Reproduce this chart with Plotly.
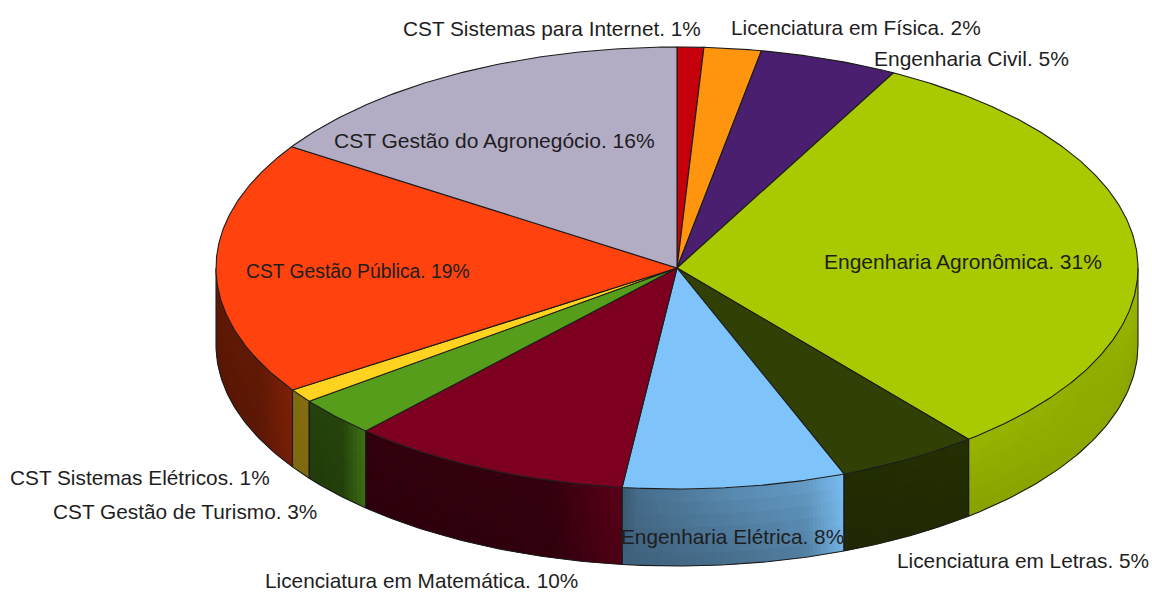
import numpy as np
import plotly.graph_objects as go

categories = ["CST Sistemas para Internet", "Licenciatura em Física", "Engenharia Civil",
              "Engenharia Agronômica", "Licenciatura em Letras", "Engenharia Elétrica",
              "Licenciatura em Matemática", "CST Gestão de Turismo", "CST Sistemas Elétricos",
              "CST Gestão Pública", "CST Gestão do Agronegócio"]
values = [0.93, 2.0, 4.85, 31.32, 5.0, 7.8, 9.9, 2.9, 1.0, 18.55, 15.75]
percent_labels = ["1%", "2%", "5%", "31%", "5%", "8%", "10%", "3%", "1%", "19%", "16%"]
colors = ["#C5000B", "#FF950E", "#4B1F6F", "#A9C900", "#314004", "#7EC3F9",
          "#7E0021", "#579D1C", "#FFD320", "#FF420E", "#B3ACC5"]

# wall shading: (fraction along the slice, factor at top, factor at bottom)
wall_shade = {
    3: [(0, .90, .80), (.5, .86, .84), (1, .92, .80)],
    4: [(0, .70, .62), (1, .74, .66)],
    5: [(0, .44, .50), (.07, .56, .50), (.5, .72, .56), (.82, .80, .64), (1, .97, .92)],
    6: [(0, .40, .36), (.75, .42, .38), (.92, .62, .55), (1, .72, .62)],
    7: [(0, .42, .38), (.6, .43, .40), (.9, .66, .62), (1, .72, .68)],
    8: [(0, .50, .50), (1, .52, .50)],
    9: [(0, .38, .34), (.75, .38, .36), (1, .50, .46)],
}

CX, CY, RX, RY, DEPTH = 677, 268, 461, 221, 77
OUTLINE = "#1c1c1c"
LABEL_LEFT = [401, 729, 872, 822, 895, 619, 263, 51, 8, 244, 332]
LABEL_Y = [28, 27, 58, 261, 560, 536, 580, 511, 477, 271, 140]
FONT_SIZES = [20.8, 20.8, 21.0, 21.0, 20.8, 20.8, 20.8, 20.8, 20.8, 19.3, 21.0]


def ex(t):
    return CX + RX * np.sin(np.radians(t))


def ey(t, d=0):
    return CY - RY * np.cos(np.radians(t)) + d


def shaded(hexcol, f):
    r, g, b = (int(hexcol[i:i + 2], 16) for i in (1, 3, 5))
    return f"rgb({min(255, r * f):.0f},{min(255, g * f):.0f},{min(255, b * f):.0f})"


fig = go.Figure()


def poly(xs, ys, fill=None, line=OUTLINE, width=1.0):
    fig.add_trace(go.Scatter(x=list(xs), y=list(ys), mode="lines",
                             fill="toself" if fill else "none",
                             fillcolor=fill, line=dict(color=line, width=width),
                             hoverinfo="skip", showlegend=False))


edges = np.concatenate([[0], np.cumsum(values)]) / sum(values) * 360
BANDS = 6

# side walls: each strip overlaps the next one, so no seams show between them
for i, (a, b) in enumerate(zip(edges[:-1], edges[1:])):
    lo, hi = max(a, 90), min(b, 270)
    if hi <= lo:
        continue
    shade = wall_shade[i]
    fr = [s[0] for s in shade]
    n = max(2, int(np.ceil(hi - lo)), int(abs(ex(hi) - ex(lo)) / 4))
    ts = np.linspace(lo, hi, n + 1)
    for t0, t1 in zip(ts[:-1], ts[1:]):
        frac = 1 - ((t0 + t1) / 2 - lo) / (hi - lo)
        ft = np.interp(frac, fr, [s[1] for s in shade])
        fb = np.interp(frac, fr, [s[2] for s in shade])
        t2 = min(hi, t1 + (t1 - t0))
        mid = np.array([t0, t1, t2])
        for k in range(BANDS):
            d0 = DEPTH * k / BANDS
            d1 = DEPTH * min(1, (k + 1.3) / BANDS)
            col = shaded(colors[i], ft + (fb - ft) * (k + .5) / BANDS)
            fig.add_trace(go.Scatter(
                x=list(np.r_[ex(mid), ex(mid[::-1]), ex(t0)]),
                y=list(np.r_[ey(mid, d0), ey(mid[::-1], d1), ey(t0, d0)]),
                mode="lines", fill="toself", fillcolor=col, line=dict(width=0),
                hoverinfo="skip", showlegend=False))

for i, (a, b) in enumerate(zip(edges[:-1], edges[1:])):
    lo, hi = max(a, 90), min(b, 270)
    if hi <= lo:
        continue
    arc = np.linspace(lo, hi, 60)
    poly(ex(arc), ey(arc, DEPTH), line=OUTLINE, width=1.1)
    poly([ex(lo), ex(lo)], [ey(lo), ey(lo, DEPTH)], line=OUTLINE, width=1.1)
    poly([ex(hi), ex(hi)], [ey(hi), ey(hi, DEPTH)], line=OUTLINE, width=1.1)

# top faces
for i, (a, b) in enumerate(zip(edges[:-1], edges[1:])):
    arc = np.linspace(a, b, max(4, int(b - a) * 2))
    poly(np.r_[CX, ex(arc), CX], np.r_[CY, ey(arc), CY], fill=colors[i], width=1.1)

for i, name in enumerate(categories):
    fig.add_annotation(x=LABEL_LEFT[i], y=LABEL_Y[i], xref="x", yref="y",
                       text=f"{name}. {percent_labels[i]}", showarrow=False,
                       xanchor="left", yanchor="middle",
                       font=dict(family="Liberation Sans", size=FONT_SIZES[i], color="#1e1e1e"))

fig.update_layout(width=1152, height=592, margin=dict(l=0, r=0, t=0, b=0),
                  paper_bgcolor="white", plot_bgcolor="white", showlegend=False,
                  xaxis=dict(range=[0, 1152], visible=False, fixedrange=True),
                  yaxis=dict(range=[592, 0], visible=False, fixedrange=True))
fig.write_html("out.html", post_script="document.body.style.margin='0';",
               config=dict(displayModeBar=False))
